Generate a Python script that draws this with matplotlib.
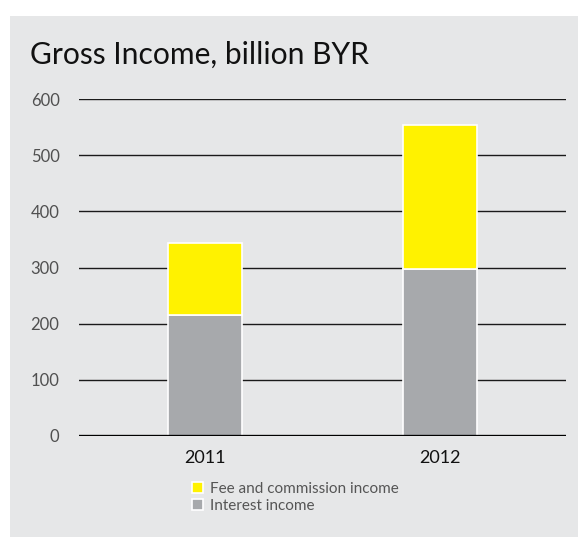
import numpy as np
import matplotlib.pyplot as plt
from matplotlib.patches import Rectangle

years = ['2011', '2012']
interest_income = [215, 297]
fee_income = [129, 256]
y_ticks = [0, 100, 200, 300, 400, 500, 600]

BG = '#e6e7e8'
YELLOW = '#fff200'
GREY = '#a7a9ac'

plt.rcParams['font.family'] = ['Lato', 'DejaVu Sans']

W, H = 578, 537
fig = plt.figure(figsize=(W / 100, H / 100), dpi=100)
fig.patch.set_facecolor('white')
fig.patches.append(Rectangle((10 / W, 0), 1 - 10 / W, 1 - 16 / H,
                             transform=fig.transFigure, facecolor=BG,
                             edgecolor='none', zorder=-5))

ax = fig.add_axes([79 / W, 101 / H, 487 / W, 337 / H])
ax.set_facecolor('none')

x = np.arange(len(years))
ax.bar(x, interest_income, width=0.315, color=GREY, edgecolor='white',
       linewidth=1.2, zorder=2, label='Interest income')
ax.bar(x, fee_income, width=0.315, bottom=interest_income, color=YELLOW,
       edgecolor='white', linewidth=1.2, zorder=2,
       label='Fee and commission income')

for t in y_ticks[1:]:
    ax.axhline(t, color='#1a1a1a', linewidth=1.0, zorder=1)
ax.axhline(0, color='black', linewidth=2.4, zorder=3)

ax.set_xlim(-0.536, 1.536)
ax.set_ylim(0, 600)
ax.set_yticks(y_ticks)
ax.set_xticks(x, years)
ax.tick_params(axis='y', length=0, pad=14, labelsize=12, labelcolor='#505050')
ax.tick_params(axis='x', length=0, pad=10, labelsize=13, labelcolor='#111111')
for s in ax.spines.values():
    s.set_visible(False)

fig.text(30 / W, 1 - 64 / H, 'Gross Income, billion BYR', fontsize=21.6,
         color='#111111', va='baseline', ha='left')

handles, labels = ax.get_legend_handles_labels()
leg = fig.legend(handles[::-1], labels[::-1], loc='upper left',
                 bbox_to_anchor=(192 / W, 1 - 482 / H), frameon=False,
                 fontsize=11, handlelength=0.75, handleheight=0.75,
                 handletextpad=0.4, labelspacing=0.2, borderpad=0,
                 borderaxespad=0)
for t in leg.get_texts():
    t.set_color('#555555')

fig.savefig('out.png', dpi=100, facecolor=fig.get_facecolor())
